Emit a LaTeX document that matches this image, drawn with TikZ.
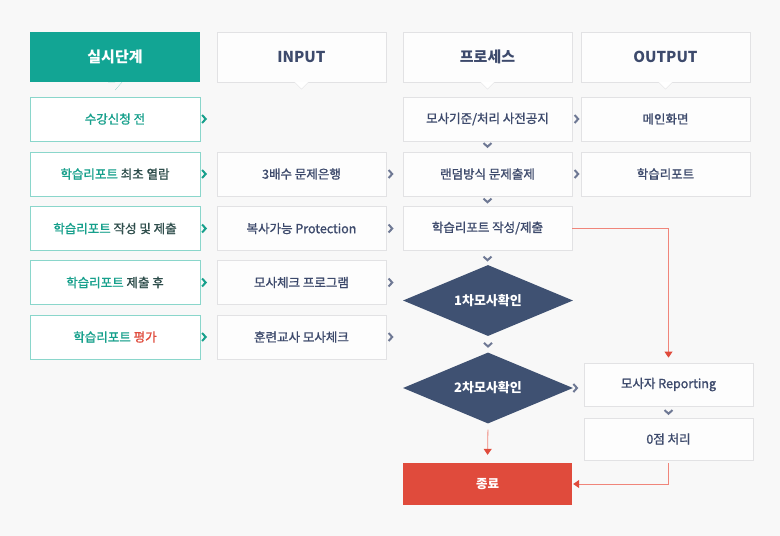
\documentclass[tikz,border=0pt]{standalone}
\usepackage{fontspec}
\setmainfont{Noto Sans CJK KR}
\newfontface\medfont{Noto Sans CJK KR}[RawFeature={embolden=1.2}]
\usetikzlibrary{shapes.geometric,arrows.meta}

\definecolor{bggray}{HTML}{F8F8F8}
\definecolor{headgreen}{HTML}{12A594}
\definecolor{stepline}{HTML}{8AD6CB}
\definecolor{stepgreen}{HTML}{17A08C}
\definecolor{stepdark}{HTML}{2E4D4B}
\definecolor{navytext}{HTML}{3D4A6C}
\definecolor{boxline}{HTML}{E2E2E4}
\definecolor{boxfill}{HTML}{FDFDFD}
\definecolor{diafill}{HTML}{3F5172}
\definecolor{endred}{HTML}{E04B3C}
\definecolor{redline}{HTML}{F0857A}
\definecolor{chevgray}{HTML}{6E7894}

\tikzset{
  headgr/.style={fill=headgreen, text=white, font=\fontsize{15}{15}\selectfont\bfseries,
    minimum width=170pt, minimum height=50pt, inner sep=0pt},
  headbox/.style={fill=boxfill, draw=boxline, text=navytext, font=\fontsize{15}{15}\selectfont\bfseries,
    minimum width=169pt, minimum height=50pt, inner sep=0pt},
  stepbox/.style={fill=white, draw=stepline, line width=0.8pt, text=stepdark,
    font=\fontsize{12.5}{12.5}\selectfont\medfont, minimum width=170pt, minimum height=44pt, inner sep=0pt},
  procbox/.style={fill=boxfill, draw=boxline, line width=0.8pt, text=navytext,
    font=\fontsize{12.5}{12.5}\selectfont\medfont, minimum width=169pt, minimum height=44pt, inner sep=0pt},
  decision/.style={diamond, aspect=2.4, fill=diafill, text=white, font=\fontsize{13}{13}\selectfont\bfseries,
    minimum width=170pt, minimum height=71pt, inner sep=0pt},
  endbox/.style={fill=endred, text=white, font=\fontsize{12.5}{12.5}\selectfont\bfseries,
    minimum width=169pt, minimum height=42pt, inner sep=0pt},
  redarrow/.style={draw=redline, line width=0.8pt, -{Triangle[width=8pt,length=6pt,color=endred]}},
  chevr/.pic={\draw[line width=2pt] (-1.8,4) -- (1.8,0) -- (-1.8,-4);},
  chevd/.pic={\draw[line width=2pt] (-4,1.8) -- (0,-1.8) -- (4,1.8);}
}

\begin{document}
\begin{tikzpicture}[x=1pt,y=1pt]
\fill[bggray] (0,0) rectangle (780,-536);
\useasboundingbox (0,0) rectangle (780,-536);

% headers
\node[headgr] (hstep) at (115,-57) {실시단계};
\node[headbox] (hin) at (301.5,-57) {INPUT};
\node[headbox] (hproc) at (487.5,-57) {프로세스};
\node[headbox] (hout) at (665.5,-57) {OUTPUT};
\fill[headgreen] ([xshift=-7pt]hstep.south) -- (hstep.south) ++(0,-8) -- ([xshift=7pt]hstep.south) -- cycle;
\foreach \h in {hin,hproc,hout}
  \draw[boxline, fill=white] ([xshift=-7pt]\h.south) -- ++(7,-7) -- ([xshift=7pt]\h.south);

% steps
\node[stepbox, text=stepgreen] (s1) at (115,-119) {수강신청 전};
\node[stepbox] (s2) at (115,-174) {{\color{stepgreen}학습리포트} 최초 열람};
\node[stepbox] (s3) at (115,-228.5) {{\color{stepgreen}학습리포트} 작성 및 제출};
\node[stepbox] (s4) at (115,-282.5) {{\color{stepgreen}학습리포트} 제출 후};
\node[stepbox] (s5) at (115,-337) {{\color{stepgreen}학습리포트} {\color{endred}평가}};

% input
\node[procbox] (i2) at (301.5,-174) {3배수 문제은행};
\node[procbox] (i3) at (301.5,-228.5) {복사가능 Protection};
\node[procbox] (i4) at (301.5,-282.5) {모사체크 프로그램};
\node[procbox] (i5) at (301.5,-337) {훈련교사 모사체크};

% process
\node[procbox] (p1) at (487.5,-119) {모사기준/처리 사전공지};
\node[procbox] (p2) at (487.5,-174) {랜덤방식 문제출제};
\node[procbox] (p3) at (487.5,-228) {학습리포트 작성/제출};
\node[decision] (d1) at (488,-300.5) {1차모사확인};
\node[decision] (d2) at (488,-388) {2차모사확인};
\node[endbox] (fin) at (487.5,-484) {종료};

% output
\node[procbox] (o1) at (665.5,-119) {메인화면};
\node[procbox] (o2) at (665.5,-174) {학습리포트};
\node[procbox, minimum height=43pt] (rep) at (668.5,-384.5) {모사자 Reporting};
\node[procbox, minimum height=42pt] (zero) at (668.5,-439) {0점 처리};

% chevrons
\foreach \s in {s1,s2,s3,s4,s5}
  \pic[color=stepgreen] at ([xshift=3.5pt]\s.east) {chevr};
\foreach \s in {i2,i3,i4,i5,p1,p2}
  \pic[color=chevgray] at ([xshift=4pt]\s.east) {chevr};
\pic[color=chevgray] at ([xshift=2pt]d2.east) {chevr};
\pic[color=chevgray] at ([yshift=-3.5pt]p1.south) {chevd};
\pic[color=chevgray] at ([yshift=-4pt]p2.south) {chevd};
\pic[color=chevgray] at ([yshift=-8pt]p3.south) {chevd};
\pic[color=chevgray] at ([yshift=-8.5pt]d1.south) {chevd};
\pic[color=chevgray] at ([yshift=-5.5pt]rep.south) {chevd};

% red connectors
\draw[redarrow, shorten >=5pt] (p3.east) -| (rep.north);
\draw[redarrow, shorten <=6pt, shorten >=8pt] (d2.south) -- (fin.north);
\draw[redarrow, shorten <=3pt, shorten >=1pt] (zero.south) |- (fin.east);
\end{tikzpicture}
\end{document}
